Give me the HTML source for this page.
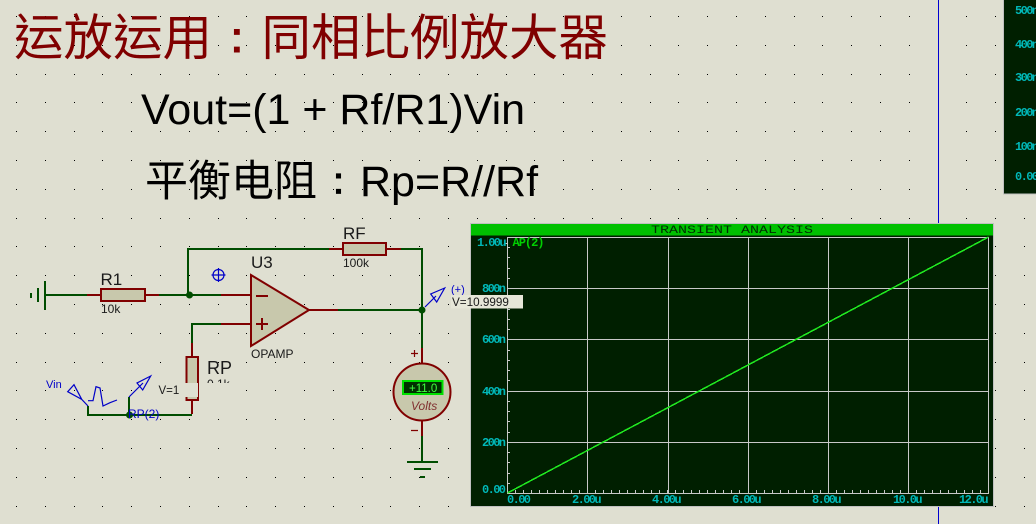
<!DOCTYPE html>
<html>
<head>
<meta charset="utf-8">
<title>运放运用：同相比例放大器</title>
<style>
html,body{margin:0;padding:0;background:#dfdfd1;}
body{width:1036px;height:524px;overflow:hidden;position:relative;}
svg{position:absolute;left:0;top:0;display:block;}
.s{font-family:"Liberation Sans",sans-serif;fill:#1a1a1a;}
.m{font-family:"Liberation Mono",monospace;font-size:12px;font-weight:bold;letter-spacing:-1.6px;fill:#00b8b8;}
.w{fill:none;stroke-width:2;stroke:#004d00;shape-rendering:crispEdges;}
.r{fill:none;stroke-width:2;stroke:#800000;shape-rendering:crispEdges;}
.b{fill:#c8c8ac;stroke:#800000;stroke-width:2;}
.p{fill:none;stroke:#0000c8;stroke-width:1.2;}
</style>
</head>
<body>
<svg id="d" width="1036" height="524" viewBox="0 0 1036 524" xmlns="http://www.w3.org/2000/svg">
<path id="dots" fill="#000" shape-rendering="crispEdges" d=""/>
<path d="M938.5 0V224M938.5 507V524" stroke="#0000d0" stroke-width="1" fill="none" shape-rendering="crispEdges"/>

<text x="14" y="55" fill="#800000" font-size="49.5" font-family="'Noto Sans CJK TC','WenQuanYi Zen Hei',sans-serif">运放运用<tspan font-family="'IPAGothic','Noto Sans CJK TC',sans-serif">：</tspan>同相比例放大器</text>
<text x="141" y="124" fill="#000" font-size="43" font-family="'Liberation Sans',sans-serif">Vout=(1 + Rf/R1)Vin</text>
<text x="145" y="196" fill="#000" font-size="43" font-family="'Liberation Sans','Noto Sans CJK TC',sans-serif">平衡电阻<tspan font-family="'IPAGothic','Noto Sans CJK TC',sans-serif">：</tspan>Rp=R//Rf</text>

<!-- top-right panel -->
<rect x="1003.5" y="-2" width="40" height="196" fill="#001f00" stroke="#c0c0c0"/>
<g class="m"><text x="1015" y="14">500n</text><text x="1015" y="48">400n</text><text x="1015" y="81">300n</text><text x="1015" y="116">200n</text><text x="1015" y="150">100n</text><text x="1015" y="180">0.00</text></g>

<!-- wires -->
<path class="w" d="M45 295H87M159 295H221M188 295V249H329M401 249H422V348M338 310H422M192 343V324H221M422 436V462"/>
<path class="w" d="M88 406V415H192M129 397V415"/>
<path class="r" d="M87 295H100M145 295H159M221 295H251M221 324H251M329 249H342M386 249H401M309 310H338M192 343V357M192 400V414M422 348V363M422 421V436"/>
<circle cx="189.500" cy="295" r="3.500" fill="#004d00"/>
<circle cx="129.500" cy="415" r="3.500" fill="#004d00"/>
<circle cx="422" cy="310" r="3.500" fill="#004d00"/>

<!-- ground battery -->
<path d="M31 293V298M38 288V302M45 281V310" stroke="#004d00" stroke-width="2" shape-rendering="crispEdges"/>

<!-- resistors -->
<rect class="b" x="101" y="289" width="44" height="12"/>
<rect class="b" x="343" y="243" width="43" height="12"/>
<rect class="b" x="186.500" y="357" width="11.500" height="43"/>

<!-- opamp -->
<path class="b" d="M251 275L309 310L251 346Z"/>
<path d="M256 296H268M256 324H268M262 318V330" stroke="#800000" stroke-width="2" fill="none"/>

<!-- meter -->
<circle cx="422" cy="392" r="28.500" fill="#c8c8ac" stroke="#800000" stroke-width="2"/>
<rect x="403" y="381" width="39.500" height="13" fill="#003000" stroke="#00e000" stroke-width="2"/>
<text x="409" y="392" font-size="11.500" fill="#40ff40" font-family="'Liberation Sans',sans-serif">+11.0</text>
<text x="411" y="410" font-size="12" font-style="italic" fill="#803030" font-family="'Liberation Sans',sans-serif">Volts</text>
<path d="M411 353.500H418M414.500 350V357M411 430.500H418" stroke="#800000" stroke-width="1.200" fill="none"/>

<!-- ground -->
<path d="M407 462H438M414 469H431M420 477H425" stroke="#004d00" stroke-width="2" fill="none" shape-rendering="crispEdges"/>

<!-- probes and marks -->
<circle class="p" cx="218.500" cy="275" r="5.500"/>
<path class="p" d="M218.500 268V282M211.500 275H225.500"/>
<path class="p" d="M88 406L81.700 399.300L67.700 391.700L74 384.700L81.700 399.300M88 400.700H93L96 386.700L100 388L103 406L110 402.700L117 400"/>
<path class="p" d="M129 397L143 383M150.700 376L137 383L142.700 390Z"/>
<path class="p" d="M425 307L436 296M444.700 288L430.700 294L436.700 302Z"/>
<text x="46" y="388" font-size="11" fill="#0000c8" font-family="'Liberation Sans',sans-serif">Vin</text>
<text x="128" y="418" font-size="12" fill="#0000c8" font-family="'Liberation Sans',sans-serif">RP(2)</text>
<text x="451" y="293" font-size="11" fill="#0000c8" font-family="'Liberation Sans',sans-serif">(+)</text>

<!-- labels -->
<text class="s" x="100.500" y="285" font-size="17">R1</text>
<text class="s" x="101" y="313" font-size="12">10k</text>
<text class="s" x="343" y="239" font-size="17">RF</text>
<text class="s" x="343" y="267" font-size="12">100k</text>
<text class="s" x="251" y="268" font-size="17">U3</text>
<text class="s" x="251" y="358" font-size="12">OPAMP</text>
<text class="s" x="207" y="374" font-size="18">RP</text>
<text class="s" x="207" y="388" font-size="12">0.1k</text>
<rect x="154" y="383" width="44" height="14" fill="#dfdfd1"/>
<rect x="204" y="383" width="30" height="10" fill="#dfdfd1"/>
<text class="s" x="158.500" y="394" font-size="11.500">V=1</text>

<!-- graph -->
<rect x="470.500" y="223.500" width="523" height="283" fill="#001f00" stroke="#c0c0c0"/>
<rect x="471" y="224" width="522" height="11.500" fill="#00c000"/>
<text x="651" y="233" font-size="11" fill="#003000" textLength="162" lengthAdjust="spacingAndGlyphs" font-family="'Liberation Mono',monospace">TRANSIENT ANALYSIS</text>
<path id="grid" fill="none" stroke="#c8c8c8" stroke-width="1" shape-rendering="crispEdges" d="M507.500 237.500H988.500V493.500H507.500ZM587.500 237V493M668.500 237V493M748.500 237V493M828.500 237V493M908.500 237V493M507 288.500H988M507 339.500H988M507 391.500H988M507 442.500H988"/>
<path id="ticks" fill="none" stroke="#c8c8c8" stroke-width="1" shape-rendering="crispEdges" d=""/>
<path id="trace" fill="none" stroke="#20e820" stroke-width="1.5" shape-rendering="crispEdges" d="M507.500 493L988.500 237"/>
<text x="512.500" y="246" font-size="12" font-weight="bold" letter-spacing="-1" fill="#00d000" font-family="'Liberation Mono',monospace">AP(2)</text>
<g class="m">
<text x="477" y="246">1.00u</text><text x="482" y="292">800n</text><text x="482" y="343">600n</text><text x="482" y="395">400n</text><text x="482" y="446">200n</text><text x="482" y="493">0.00</text>
<text x="507" y="503">0.00</text><text x="572" y="503">2.00u</text><text x="652" y="503">4.00u</text><text x="732" y="503">6.00u</text><text x="812" y="503">8.00u</text><text x="893" y="503">10.0u</text><text x="959" y="503">12.0u</text>
</g>

<!-- voltage tag -->
<rect x="451" y="295" width="72" height="13.500" fill="#e6e6d8"/>
<text class="s" x="452" y="306" font-size="11.700">V=10.9999</text>
</svg>
<script>
var p="";for(var i=0;i<36;i++)for(var j=0;j<19;j++){var x=Math.round(16+i*28.8),y=Math.round(16+j*28.8);p+="M"+x+" "+y+"h1v1h-1z";}
document.getElementById("dots").setAttribute("d",p);
var t="";for(var k=1;k<60;k++){var xx=Math.round(507+k*8.017)+.5;t+="M"+xx+" 490V493";}
for(var n=1;n<25;n++){var yy=Math.round(237+n*10.24)+.5;t+="M507 "+yy+"H510";}
t+="M505 243.500H507";
document.getElementById("ticks").setAttribute("d",t);
</script>
</body>
</html>
